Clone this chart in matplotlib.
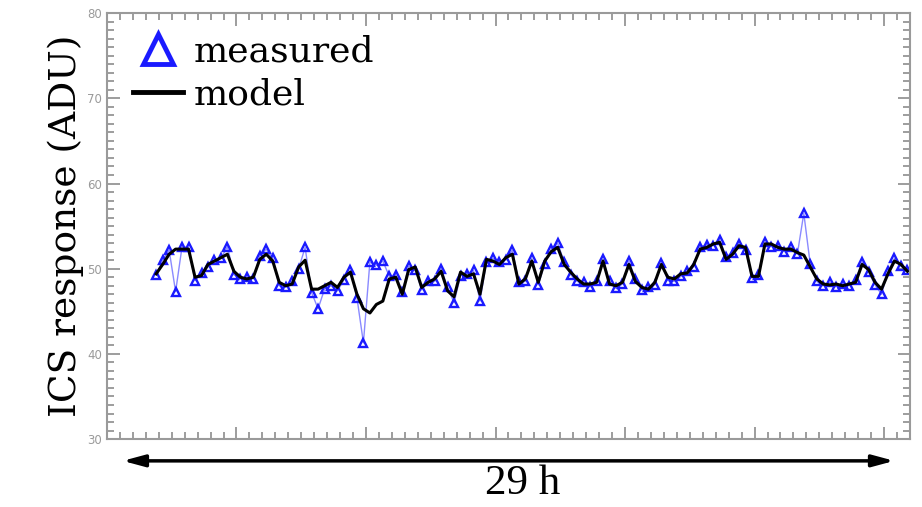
#!/usr/bin/env python3
import numpy as np
import matplotlib.pyplot as plt
from matplotlib.lines import Line2D

# time grid in hours (one sample every 15 min)
hours = np.arange(117) * 0.25 + 1.9

model = [49.4, 50.5, 51.7, 52.3, 52.3, 52.3, 49.0, 49.2, 50.5, 50.9,
         51.3, 51.7, 49.7, 49.0, 48.8, 49.0, 51.1, 51.7, 50.9, 48.4,
         48.0, 48.2, 50.2, 51.0, 47.6, 47.6, 48.0, 48.4, 47.8, 49.0,
         49.6, 47.0, 45.3, 44.8, 45.8, 46.2, 48.8, 49.0, 47.0, 49.9,
         50.2, 47.8, 48.4, 48.8, 49.7, 47.4, 46.7, 49.6, 49.1, 49.4,
         47.0, 51.1, 50.9, 50.5, 51.3, 51.7, 48.2, 48.8, 50.9, 48.4,
         50.9, 52.0, 52.5, 50.5, 49.6, 48.8, 48.2, 48.2, 48.4, 50.9,
         48.2, 48.0, 48.4, 50.5, 48.5, 47.8, 47.6, 48.4, 50.5, 49.0,
         48.8, 49.4, 49.5, 50.5, 52.3, 52.5, 52.9, 53.1, 51.1, 51.7,
         52.7, 52.5, 49.1, 49.1, 52.9, 52.9, 52.5, 52.3, 52.3, 51.9,
         51.6, 50.2, 48.8, 48.2, 48.1, 48.2, 48.0, 48.2, 48.4, 50.5,
         49.9, 48.4, 47.6, 49.4, 50.9, 50.5, 49.7]

measured = [49.3, 51.0, 52.2, 47.3, 52.6, 52.5, 48.6, 49.5, 50.2, 51.0,
            51.2, 52.6, 49.3, 48.8, 49.0, 48.8, 51.5, 52.3, 51.2, 48.0,
            47.8, 48.5, 50.0, 52.5, 47.2, 45.3, 47.6, 48.0, 47.4, 48.7,
            49.8, 46.6, 41.3, 50.8, 50.4, 50.9, 49.1, 49.3, 47.3, 50.3,
            49.9, 47.5, 48.6, 48.5, 50.0, 47.8, 46.0, 49.2, 49.4, 49.8,
            46.2, 50.8, 51.2, 50.8, 51.0, 52.2, 48.4, 48.5, 51.2, 48.1,
            50.6, 52.3, 53.0, 50.8, 49.3, 48.5, 48.4, 47.9, 48.6, 51.1,
            48.5, 47.7, 48.2, 50.9, 48.8, 47.5, 47.8, 48.1, 50.7, 48.6,
            48.5, 49.1, 49.7, 50.2, 52.6, 52.8, 52.7, 53.4, 51.4, 51.9,
            52.9, 52.2, 48.9, 49.3, 53.1, 52.6, 52.7, 52.0, 52.5, 51.7,
            56.5, 50.5, 48.5, 48.0, 48.4, 47.9, 48.2, 48.0, 48.7, 50.8,
            49.6, 48.1, 47.0, 49.7, 51.2, 50.3, 49.9]

grey = "#8c8c8c"

fig = plt.figure(figsize=(9.22, 5.07), dpi=100)
ax = fig.add_axes([0.116, 0.134, 0.871, 0.840])

ax.plot(hours, measured, color="#8a8aff", lw=1.0, marker="^", ms=6,
        mfc="none", mec="#1a1aff", mew=1.7)
ax.plot(hours, model, color="black", lw=2.2)

ax.set_xlim(0, 31)
ax.set_ylim(30, 80)
ax.set_xticks(np.arange(0, 31, 5))
ax.set_xticks(np.arange(0, 31, 0.5), minor=True)
ax.set_yticks(np.arange(30, 81, 10))
ax.set_yticks(np.arange(30, 81, 1), minor=True)
ax.set_xticklabels([])
ax.tick_params(which="both", direction="in", top=True, right=True,
               color=grey, width=1.2, labelsize=8.5, labelcolor="#9a9a9a")
ax.tick_params(which="major", length=9)
ax.tick_params(which="minor", length=5)
for s in ax.spines.values():
    s.set_color("#9a9a9a")
    s.set_linewidth(1.5)

ax.set_ylabel("ICS response (ADU)", family="DejaVu Serif", fontsize=27,
              labelpad=2)

handles = [Line2D([], [], ls="none", marker="^", ms=21, mfc="none",
                  mec="#1a1aff", mew=3.5),
           Line2D([], [], color="black", lw=3.5)]
ax.legend(handles, ["measured", "model"], loc="upper left",
          bbox_to_anchor=(0.005, 1.0), frameon=False, handlelength=1.4,
          handletextpad=0.3, labelspacing=0.25, borderaxespad=0.2,
          prop={"family": "DejaVu Serif", "size": 26})

ax.annotate("", xy=(0.973, 0.091), xytext=(0.130, 0.091),
            xycoords="figure fraction",
            arrowprops=dict(arrowstyle="<|-|>,head_length=1.3,head_width=0.35",
                            color="black", lw=2.5))
fig.text(0.567, 0.045, "29 h", ha="center", va="center",
         family="Liberation Serif", fontsize=31)

plt.savefig("out.png")
